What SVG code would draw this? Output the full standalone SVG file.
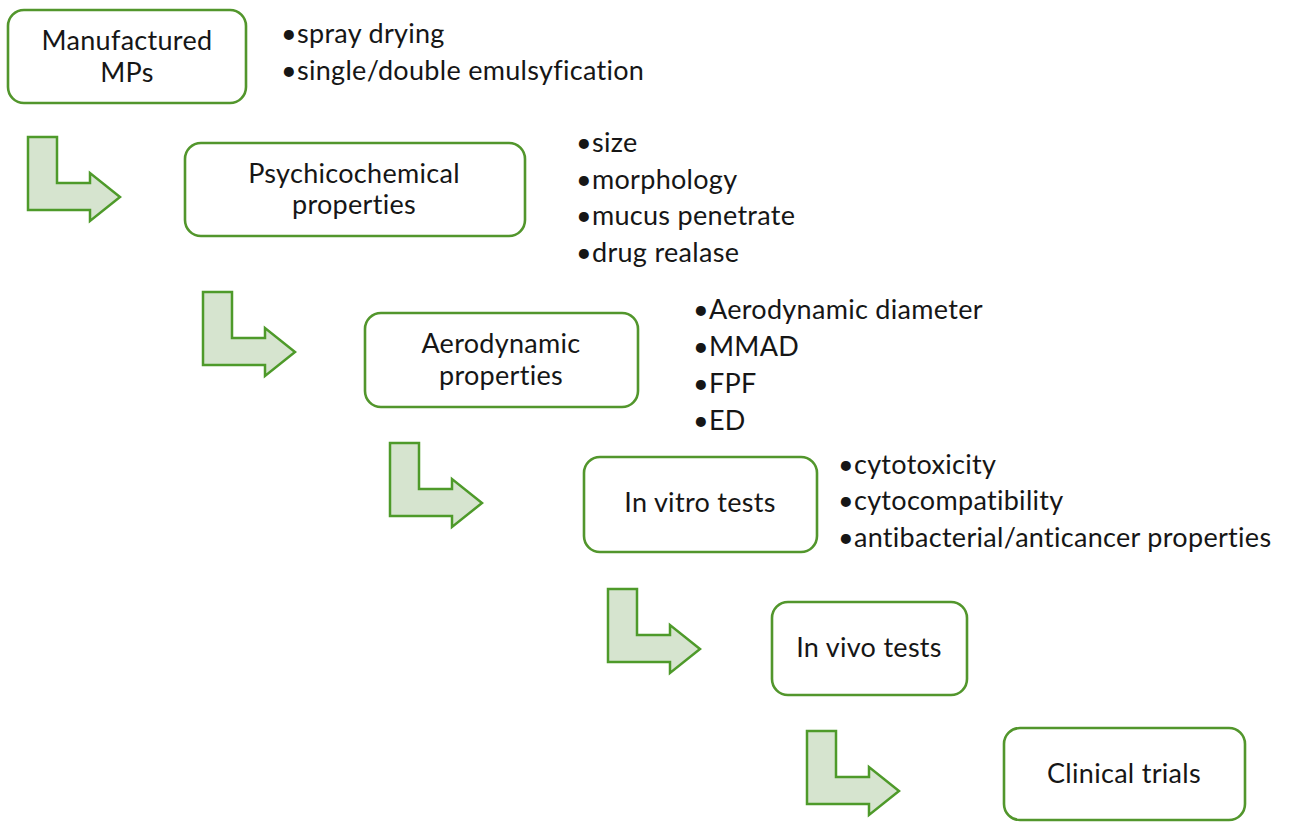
<svg xmlns="http://www.w3.org/2000/svg" width="1297" height="822" viewBox="0 0 1297 822">
<defs>
<style>
.box{fill:#ffffff;stroke:#52962c;stroke-width:2.6}
.arr{fill:#d6e4cf;stroke:#4e9a2a;stroke-width:2.5;stroke-linejoin:miter}
.t{font-family:Lato,"Open Sans","Liberation Sans",sans-serif;font-size:27px;fill:#161616;letter-spacing:0.3px;font-variant-ligatures:none}
.c{text-anchor:middle}
</style>
<path id="L" d="M0,0 H29 V46 H62 V36 L92,60 L62,84 V73 H0 Z"/>
</defs>
<rect width="1297" height="822" fill="#ffffff"/>
<g id="connectors">
<use href="#L" class="arr" x="28" y="137"/>
<use href="#L" class="arr" x="203" y="292"/>
<use href="#L" class="arr" x="390" y="443"/>
<use href="#L" class="arr" x="608" y="589"/>
<use href="#L" class="arr" x="807" y="731"/>
</g>
<g id="n1">
<rect class="box" x="8" y="10" width="238" height="93" rx="16"/>
<text class="t c" x="127" y="50">Manufactured</text>
<text class="t c" x="127" y="82">MPs</text>
</g>
<g id="n1list">
<text class="t" x="281" y="43">•spray drying</text>
<text class="t" x="281" y="80">•single/double emulsyfication</text>
</g>
<g id="n2">
<rect class="box" x="185" y="143" width="340" height="93" rx="16"/>
<text class="t c" x="354" y="183">Psychicochemical</text>
<text class="t c" x="354" y="214">properties</text>
</g>
<g id="n2list">
<text class="t" x="576" y="152">•size</text>
<text class="t" x="576" y="189">•morphology</text>
<text class="t" x="576" y="225">•mucus penetrate</text>
<text class="t" x="576" y="262">•drug realase</text>
</g>
<g id="n3">
<rect class="box" x="365" y="313" width="273" height="94" rx="16"/>
<text class="t c" x="501" y="353">Aerodynamic</text>
<text class="t c" x="501" y="385">properties</text>
</g>
<g id="n3list">
<text class="t" x="693" y="319">•Aerodynamic diameter</text>
<text class="t" x="693" y="356">•MMAD</text>
<text class="t" x="693" y="393">•FPF</text>
<text class="t" x="693" y="430">•ED</text>
</g>
<g id="n4">
<rect class="box" x="584" y="457" width="233" height="95" rx="16"/>
<text class="t c" x="700" y="512">In vitro tests</text>
</g>
<g id="n4list">
<text class="t" x="838" y="474">•cytotoxicity</text>
<text class="t" x="838" y="510">•cytocompatibility</text>
<text class="t" x="838" y="547">•antibacterial/anticancer properties</text>
</g>
<g id="n5">
<rect class="box" x="772" y="602" width="195" height="93" rx="16"/>
<text class="t c" x="869" y="657">In vivo tests</text>
</g>
<g id="n6">
<rect class="box" x="1004" y="728" width="241" height="92" rx="16"/>
<text class="t c" x="1124" y="783">Clinical trials</text>
</g>
</svg>
